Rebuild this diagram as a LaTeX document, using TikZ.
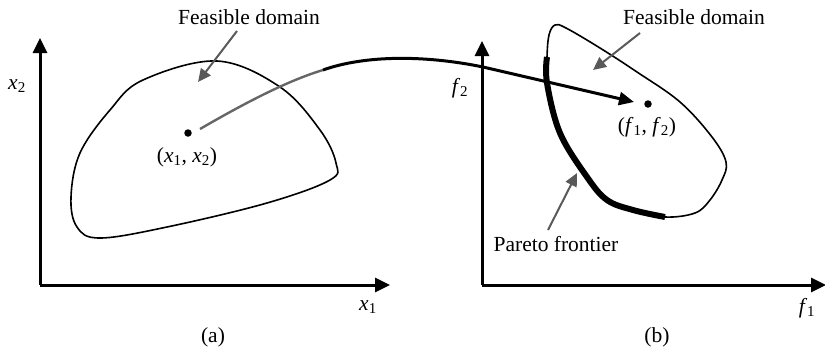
\documentclass[tikz,border=0pt]{standalone}
\usepackage{fontspec}
\setmainfont{Liberation Serif}
\usetikzlibrary{arrows.meta}
\newcommand\vv[2]{\textit{#1}\textsubscript{#2}}
\begin{document}
\begin{tikzpicture}[x=1pt,y=-1pt,
  txt/.style={font=\fontsize{21.5}{24}\selectfont, inner sep=0pt},
  axis/.style={line width=3pt, -{Triangle[length=15pt,width=14pt]}},
  outline/.style={line width=1.6pt},
  pointer/.style={draw=black!65, line width=2pt, -{Triangle[length=13pt,width=12pt]}},
  dotc/.style={circle, fill=black, inner sep=0pt, minimum size=7.5pt}]
\useasboundingbox (0,0) rectangle (825,349);
% axes (a)
\coordinate (ao) at (40,285);
\coordinate (ay) at (40,38);
\coordinate (ax) at (390,285);
\draw[axis] (ao) -- (ay);
\draw[axis] (ao) -- (ax);
\node[txt] (lx2) at (17,86) {\vv{x}{2}};
\node[txt] (lx1) at (368,307) {\vv{x}{1}};
\node[txt] (la) at (213,337) {(a)};
% domain (a)
\draw[outline] plot[smooth cycle, tension=0.6] coordinates {(217,61) (280,87) (320,130) (336,163) (330,180) (267,203) (167,227) (100,238) (77,227) (71,197) (80,153) (110,110) (143,80)};
\node[dotc] (pa) at (188,133) {};
\node[txt] (lpa) at (187,157) {(\vv{x}{1}, \vv{x}{2})};
\node[txt] (fda) at (249,17) {Feasible domain};
\coordinate (fdas) at (237,31);
\coordinate (fdat) at (198,82);
\draw[pointer] (fdas) -- (fdat);
% axes (b)
\coordinate (bo) at (482,285);
\coordinate (by) at (482,41);
\coordinate (bx) at (826,285);
\draw[axis] (bo) -- (by);
\draw[axis] (bo) -- (bx);
\node[txt] (lf2) at (460,88) {\vv{f}{2}};
\node[txt] (lf1) at (807,308) {\vv{f}{1}};
\node[txt] (lb) at (657,337) {(b)};
% domain (b)
\draw[outline] plot[smooth cycle, tension=0.6] coordinates {(547,57) (549,35) (555,25) (566,28) (600,48) (637,72) (680,102) (712,137) (726,162) (722,180) (710,200) (695,213) (665,217) (633,210) (607,200) (587,177) (560,133) (547,83)};
\draw[line width=6pt] plot[smooth, tension=0.6] coordinates {(547,57) (547,83) (560,133) (587,177) (607,200) (633,210) (665,217)};
\node[dotc] (pb) at (648,104) {};
\node[txt] (lpb) at (647,127) {(\vv{f}{1}, \vv{f}{2})};
\node[txt] (fdb) at (694,17) {Feasible domain};
\coordinate (fdbs) at (640,33);
\coordinate (fdbt) at (593,70);
\draw[pointer] (fdbs) -- (fdbt);
\node[txt] (pf) at (556,244) {Pareto frontier};
\coordinate (pfs) at (548,230);
\coordinate (pft) at (577,173);
\draw[pointer] (pfs) -- (pft);
% mapping connector
\coordinate (cs) at (200,129);
\coordinate (cm) at (323,70);
\coordinate (cx) at (483,67);
\coordinate (ce) at (634,102);
\draw[black!60, line width=2.4pt] (cs) .. controls (250,100) and (290,80) .. (cm);
\draw[line width=3pt, -{Triangle[length=15pt,width=13pt]}] (cm) .. controls (365,55) and (425,55) .. (cx) -- (ce);
\end{tikzpicture}
\end{document}
